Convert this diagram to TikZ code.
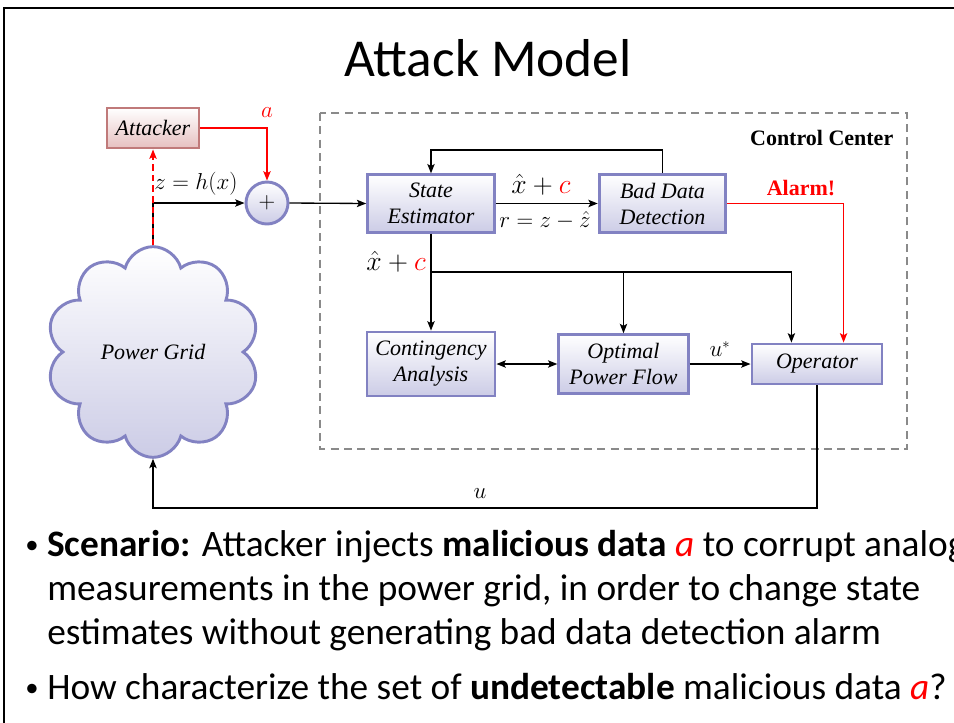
\documentclass[tikz,border=0pt]{standalone}
\usepackage{fontspec}
\setmainfont{Carlito}
\newfontfamily\dfont{Liberation Serif}
\usetikzlibrary{arrows.meta,shapes.symbols,calc}
\definecolor{boxedge}{HTML}{8282C2}
\definecolor{boxbot}{HTML}{CCCCE6}
\definecolor{attedge}{HTML}{C07A7A}
\definecolor{attbot}{HTML}{E6C0C0}
\definecolor{ccgray}{HTML}{8A8A8A}

\tikzset{
  dtext/.style={font=\dfont\itshape\fontsize{16.5}{19.5}\selectfont},
  blk/.style={dtext, draw=boxedge, line width=2.2pt, top color=white, bottom color=boxbot,
              align=center, inner sep=0pt},
  attbox/.style={blk, draw=attedge, bottom color=attbot},
  wire/.style={line width=1pt, -{Stealth[length=7pt,width=5.5pt,inset=1.5pt]}},
  plainwire/.style={line width=1pt},
  redwire/.style={wire, red},
  mlab/.style={font=\fontsize{16}{19}\selectfont, inner sep=0pt},
  biglab/.style={font=\fontsize{21}{24}\selectfont, inner sep=0pt},
  slidetext/.style={font=\fontsize{28}{33}\selectfont, anchor=base west, inner sep=0pt},
  dot/.style={font=\fontsize{20}{24}\selectfont, anchor=base west, inner sep=0pt},
}

\begin{document}
\begin{tikzpicture}[x=0.75pt,y=-0.75pt]
\useasboundingbox (0,0) rectangle (954,722);
\clip (0,0) rectangle (954,722);

% slide frame and title
\draw[line width=1.6pt] (4,730) -- (4,8) -- (960,8);
\node[font=\fontsize{40}{48}\selectfont] (title) at (488,58) {Attack Model};

% control center region
\draw[ccgray, line width=0.8pt, dash pattern=on 6pt off 4pt] (320,113) rectangle (907,449);
\node[font=\dfont\bfseries\fontsize{16.5}{19.5}\selectfont, anchor=east] (cc) at (898,138) {Control Center};

% blocks
\node[attbox, minimum width=69pt, minimum height=30pt] (att) at (153,128) {Attacker};
\node[blk, circle, minimum size=31.5pt, font=\fontsize{16}{18}\selectfont] (plus) at (267,203) {$+$};
\node[blk, minimum width=95pt, minimum height=43pt] (se) at (431,203.5) {State\\Estimator};
\node[blk, minimum width=95pt, minimum height=43.5pt] (bdd) at (662.5,203.5) {Bad Data\\Detection};
\node[blk, minimum width=96pt, minimum height=48pt] (ca) at (431,364) {Contingency\\Analysis};
\node[blk, minimum width=97pt, minimum height=44pt] (opf) at (623.5,364) {Optimal\\Power Flow};
\node[blk, minimum width=97.5pt, minimum height=30pt] (op) at (817,364) {Operator};
\node[blk, cloud, cloud puffs=10, cloud puff arc=150, cloud ignores aspect,
      minimum width=160pt, minimum height=158pt]
  (grid) at (153,352) {Power Grid};

% measurements and attack injection
\coordinate (zj) at (153,203);
\draw[plainwire] (grid.north) -- (zj);
\draw[wire] (zj) -- (plus.west);
\node[mlab] (zlab) at (196,184) {$z=h(x)$};
\draw[redwire, dashed, dash pattern=on 5pt off 3pt] (grid.north) -- (att.south);
\draw[redwire] (att.east) -| (plus.north);
\node[font=\fontsize{19}{22}\selectfont, red, inner sep=0pt] (alab) at (267,113) {$a$};
\draw[wire] (plus.east) -- (se.west);

% estimator and bad data detection
\draw[wire] (se.east) -- (bdd.west);
\node[biglab] (xc1) at (541,185) {$\hat{x}+{\color{red}c}$};
\node[mlab] (rlab) at (545,220) {$r=z-\hat{z}$};
\draw[wire] (bdd.north) -- ++(0,-23) -| (se.north);
\node[font=\dfont\bfseries\fontsize{16.5}{19.5}\selectfont, red] (alarm) at (801,188) {Alarm!};
\coordinate (opalarm) at ($(op.north)!0.4!(op.north east)$);
\draw[redwire] (bdd.east) -| (opalarm);

% distribution of the state estimate
\coordinate (br) at (431,272);
\coordinate (opest) at ($(op.north)!0.385!(op.north west)$);
\draw[wire] (se.south) -- (ca.north);
\draw[wire] (br) -| (opf.north);
\draw[wire] (br) -| (opest);
\node[biglab, anchor=east] (xc2) at (426,262) {$\hat{x}+{\color{red}c}$};
\draw[line width=1pt, {Stealth[length=7pt,width=5.5pt,inset=1.5pt]}-{Stealth[length=7pt,width=5.5pt,inset=1.5pt]}]
  (ca.east) -- (opf.west);
\draw[wire] (opf.east) -- (op.west);
\node[mlab] (ustar) at (720,349) {$u^{*}$};

% control feedback to the grid
\coordinate (ubot) at (817,508);
\draw[wire] (op.south) -- (ubot) -| (grid.south);
\node[mlab] (ulab) at (480,494) {$u$};

% slide bullets
\node[dot] (d1) at (25,553) {•};
\node[slidetext] (t1) at (47,556) {\textbf{Scenario:} Attacker injects \textbf{malicious data} {\color{red}\itshape a} to corrupt analog};
\node[slidetext] (t2) at (47,600) {measurements in the power grid, in order to change state};
\node[slidetext] (t3) at (47,644) {estimates without generating bad data detection alarm};
\node[dot] (d2) at (25,696) {•};
\node[slidetext] (t4) at (47,699) {How characterize the set of \textbf{undetectable} malicious data {\color{red}\itshape a}?};
\end{tikzpicture}
\end{document}
